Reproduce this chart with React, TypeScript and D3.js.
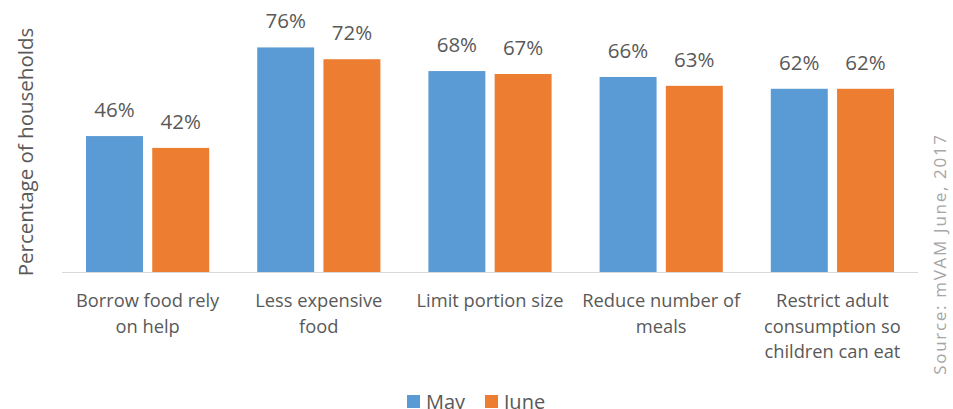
import * as d3 from 'd3';

const categories = [
  ['Borrow food rely', 'on help'],
  ['Less expensive', 'food'],
  ['Limit portion size'],
  ['Reduce number of', 'meals'],
  ['Restrict adult', 'consumption so', 'children can eat'],
];
const series = ['May', 'June'];
const may = [46, 76, 68, 66, 62];
const june = [42, 72, 67, 63, 62];
const colors = ['#5B9BD5', '#ED7D31'];

const W = 953;
const H = 409;
const FONT = '"Open Sans", "Noto Sans", sans-serif';

export default function App() {
  const values = [may, june];
  const x = d3.scaleBand<number>().domain(d3.range(categories.length)).range([62, 918]).paddingInner(0).paddingOuter(0);
  const sub = d3.scaleBand<number>().domain([0, 1]).range([24, x.bandwidth() - 24]).paddingInner(0.14);
  const y = d3.scaleLinear().domain([0, 80]).range([272, 35.6]);

  return (
    <svg width={W} height={H} style={{ position: 'absolute', left: 0, top: 0, background: '#fff' }}>
      {categories.map((c, i) => (
        <g key={i} transform={`translate(${x(i)},0)`}>
          {values.map((vals, s) => (
            <g key={s}>
              <rect
                x={sub(s)}
                y={y(vals[i])}
                width={sub.bandwidth()}
                height={y(0) - y(vals[i])}
                fill={colors[s]}
              />
              <text
                x={(sub(s) ?? 0) + sub.bandwidth() / 2}
                y={y(vals[i]) - 19}
                textAnchor="middle"
                fontFamily={FONT}
                fontSize={20.5}
                fill="#595959"
              >
                {vals[i]}%
              </text>
            </g>
          ))}
          {c.map((line, k) => (
            <text
              key={k}
              x={x.bandwidth() / 2}
              y={307 + k * 25.5}
              textAnchor="middle"
              fontFamily={FONT}
              fontSize={18.3}
              fill="#595959"
            >
              {line}
            </text>
          ))}
        </g>
      ))}
      <line x1={62} x2={918} y1={y(0) + 0.5} y2={y(0) + 0.5} stroke="#d9d9d9" strokeWidth={1} />
      <text
        transform="translate(33,152) rotate(-90)"
        textAnchor="middle"
        fontFamily={FONT}
        fontSize={20.5}
        fill="#595959"
      >
        Percentage of households
      </text>
      <text
        transform="translate(946,254) rotate(-90)"
        textAnchor="middle"
        fontFamily={FONT}
        fontSize={17}
        letterSpacing={1.7}
        fill="#a6a6a6"
      >
        Source: mVAM June, 2017
      </text>
      {series.map((s, i) => {
        const lx = i === 0 ? 407 : 485;
        return (
          <g key={s}>
            <rect x={lx} y={395} width={13} height={13} fill={colors[i]} />
            <text x={lx + 19} y={409} fontFamily={FONT} fontSize={20} fill="#595959">
              {s}
            </text>
          </g>
        );
      })}
    </svg>
  );
}
